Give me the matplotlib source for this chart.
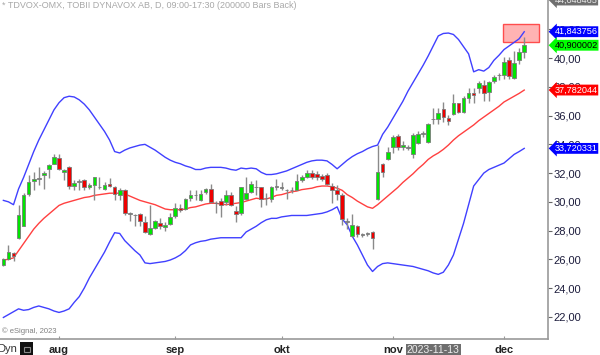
import matplotlib
matplotlib.use('Agg')
import matplotlib.pyplot as plt
import matplotlib.patches as mpatches
import numpy as np
import pandas as pd

plt.rcParams['font.family'] = ['Liberation Sans', 'DejaVu Sans']

# trading days shown (Jul 17 - Dec 7 2023)
dates = pd.bdate_range('2023-07-17', '2023-12-07')
month_labels = ['aug', 'sep', 'okt', 'nov', 'dec']

opens = [25.6, 26.0, 26.45, 27.5, 28.35, 30.55, 31.45, 31.6, 31.85, 32.3,
         32.65, 33.05, 32.07, 32.45, 31.1, 31.4, 31.5, 31.0, 31.2, 31.05,
         30.9, 31.25, 31.05, 30.5, 30.85, 29.2, 29.1, 29.15, 28.6, 27.75,
         28.2, 28.55, 28.25, 28.45, 29.0, 29.6, 29.5, 30.3, 30.45, 30.1,
         30.7, 30.9, 29.95, 30.05, 30.0, 30.5, 29.35, 29.2, 30.2, 30.7,
         31.0, 31.0, 30.25, 30.2, 31.05, 31.0, 30.85, 30.8, 30.85, 31.5,
         31.75, 32.0, 31.95, 31.8, 31.85, 31.1, 30.8, 30.5, 28.6, 27.6,
         28.35, 27.7, 27.75, 27.9, 30.2, 32.65, 32.95, 33.8, 34.6, 33.8,
         33.75, 33.35, 34.1, 34.75, 34.15, 35.75, 35.75, 36.45, 35.85, 36.1,
         36.85, 36.25, 37.25, 37.6, 37.95, 38.15, 37.65, 38.4, 38.8, 38.8,
         39.9, 38.6, 39.9, 40.45]
highs = [26.1, 27.0, 26.5, 29.8, 30.6, 31.9, 32.1, 32.4, 32.15, 32.6,
         33.3, 33.35, 32.3, 32.5, 31.55, 31.6, 31.6, 31.3, 31.75, 31.7,
         31.4, 31.65, 31.1, 30.95, 30.9, 29.3, 29.15, 29.2, 29.0, 29.8,
         28.75, 28.85, 28.6, 29.25, 29.9, 29.85, 30.25, 30.8, 30.8, 30.8,
         30.95, 31.25, 30.05, 30.3, 30.85, 30.7, 29.7, 31.05, 31.7, 31.45,
         31.5, 31.05, 30.6, 31.1, 31.6, 31.35, 30.9, 31.0, 31.95, 31.9,
         32.25, 32.2, 32.15, 31.95, 32.0, 31.3, 31.2, 30.6, 28.85, 29.15,
         28.4, 27.85, 27.9, 27.95, 33.95, 32.7, 33.85, 34.65, 34.75, 34.2,
         33.95, 34.8, 34.95, 34.95, 35.5, 36.5, 36.5, 36.95, 36.05, 37.5,
         36.9, 37.4, 37.9, 37.9, 38.4, 38.45, 38.4, 38.8, 39.0, 40.05,
         40.1, 40.5, 40.7, 41.5]
lows = [25.55, 25.95, 25.85, 27.4, 28.3, 30.4, 30.85, 31.2, 30.9, 31.65,
        32.6, 32.25, 31.55, 30.9, 30.8, 30.85, 30.85, 30.9, 30.15, 30.9,
        30.8, 31.0, 30.15, 30.1, 29.05, 28.65, 28.3, 28.3, 27.85, 27.7,
        28.1, 28.1, 27.95, 28.4, 28.9, 29.3, 29.45, 30.05, 30.15, 30.05,
        30.55, 29.9, 29.2, 28.95, 29.8, 29.7, 28.6, 29.1, 30.1, 30.6,
        30.5, 29.65, 29.8, 30.0, 30.85, 30.85, 30.2, 30.6, 30.8, 31.4,
        31.65, 31.6, 31.5, 31.45, 31.2, 29.95, 30.1, 28.4, 28.1, 27.55,
        27.55, 27.55, 27.65, 26.75, 30.1, 31.7, 32.9, 33.4, 33.6, 33.6,
        33.6, 33.05, 34.0, 34.5, 34.1, 35.45, 35.45, 35.55, 35.35, 36.05,
        36.15, 36.2, 36.85, 36.85, 37.6, 37.0, 37.0, 38.25, 38.5, 38.55,
        38.55, 38.55, 39.6, 40.0]
closes = [26.05, 26.5, 26.2, 29.05, 30.5, 31.4, 31.6, 31.65, 32.0, 32.55,
          33.1, 32.3, 32.23, 31.1, 31.3, 31.45, 31.0, 31.2, 31.7, 31.0,
          31.15, 31.1, 30.55, 30.8, 29.25, 29.15, 29.05, 28.65, 27.9, 28.2,
          28.65, 28.3, 28.4, 28.95, 29.55, 29.4, 30.2, 30.45, 30.5, 30.55,
          30.9, 30.0, 29.9, 29.8, 30.45, 29.75, 29.15, 31.0, 30.6, 31.25,
          31.05, 30.2, 30.3, 31.05, 31.1, 30.95, 30.8, 30.85, 31.45, 31.7,
          32.0, 31.75, 31.7, 31.6, 31.25, 30.85, 30.55, 28.8, 28.65, 28.4,
          27.75, 27.75, 27.8, 27.5, 32.1, 32.1, 33.45, 34.5, 33.85, 33.95,
          33.8, 34.65, 34.7, 34.8, 35.45, 35.8, 36.15, 35.9, 35.65, 36.9,
          36.25, 37.2, 37.6, 37.45, 38.25, 37.6, 38.35, 38.7, 38.85, 39.7,
          38.75, 39.65, 40.45, 40.9]

# bollinger bands
bb_upper = [30.1, 30.0, 29.8, 30.9, 31.7, 32.6, 33.5, 34.3, 35.0, 35.7,
            36.4, 36.9, 37.25, 37.35, 37.3, 37.1, 36.8, 36.4, 35.9, 35.4,
            34.9, 34.3, 33.5, 33.4, 33.6, 33.75, 33.85, 33.95, 34.0, 33.8,
            33.6, 33.35, 33.1, 32.9, 32.75, 32.65, 32.5, 32.4, 32.25, 32.25,
            32.35, 32.4, 32.4, 32.4, 32.35, 32.25, 32.2, 32.35, 32.3, 32.35,
            32.3, 32.05, 31.9, 31.9, 31.95, 32.05, 32.15, 32.3, 32.45, 32.6,
            32.75, 32.85, 32.9, 32.9, 32.85, 32.6, 32.3, 32.6, 32.9, 33.15,
            33.35, 33.5, 33.7, 33.85, 33.95, 34.7, 35.2, 35.8, 36.4, 37.0,
            37.7, 38.3, 38.9, 39.5, 40.15, 40.85, 41.55, 41.72, 41.75, 41.65,
            41.3, 40.8, 40.3, 39.05, 39.2, 39.1, 39.35, 39.85, 40.2, 40.6,
            40.85, 41.1, 41.35, 41.84]
bb_mid = [25.95, 26.0, 26.1, 26.6, 27.1, 27.6, 28.1, 28.5, 28.85, 29.15,
          29.45, 29.75, 29.9, 30.0, 30.1, 30.2, 30.3, 30.35, 30.45, 30.5,
          30.55, 30.6, 30.6, 30.6, 30.55, 30.4, 30.25, 30.1, 30.0, 29.9,
          29.8, 29.65, 29.5, 29.45, 29.45, 29.45, 29.5, 29.6, 29.65, 29.75,
          29.85, 29.9, 29.9, 29.85, 29.8, 29.85, 29.9, 29.95, 30.05, 30.15,
          30.25, 30.2, 30.2, 30.3, 30.45, 30.5, 30.6, 30.7, 30.75, 30.85,
          30.9, 30.95, 31.05, 31.1, 31.1, 31.05, 30.95, 30.8, 30.5, 30.3,
          30.05, 29.85, 29.65, 29.55, 29.8, 30.1, 30.4, 30.7, 31.0, 31.35,
          31.65, 31.95, 32.3, 32.6, 32.95, 33.2, 33.4, 33.65, 33.95, 34.3,
          34.6, 34.85, 35.1, 35.35, 35.65, 35.9, 36.15, 36.4, 36.65, 36.95,
          37.15, 37.35, 37.55, 37.78]
bb_lower = [21.95, 22.15, 22.35, 22.55, 22.45, 22.5, 22.65, 22.75, 22.65, 22.55,
            22.4, 22.3, 22.4, 22.55, 23.0, 23.4, 24.0, 24.7, 25.3, 25.9,
            26.5, 27.2, 27.85, 27.8, 27.3, 26.95, 26.6, 26.3, 25.75, 25.7,
            25.75, 25.8, 25.85, 25.95, 26.1, 26.3, 26.6, 27.0, 27.15, 27.25,
            27.3, 27.4, 27.45, 27.5, 27.5, 27.5, 27.5, 27.5, 27.9, 28.1,
            28.3, 28.55, 28.75, 28.85, 28.85, 28.95, 29.0, 29.05, 29.05, 29.05,
            29.05, 29.1, 29.15, 29.2, 29.3, 29.45, 29.65, 28.8, 28.4, 27.6,
            27.0, 26.3, 25.6, 25.15, 25.5, 25.7, 25.75, 25.7, 25.65, 25.6,
            25.55, 25.5, 25.4, 25.3, 25.2, 25.05, 24.95, 25.1, 25.6, 26.3,
            27.4, 28.5, 29.8, 31.1, 31.55, 32.0, 32.25, 32.4, 32.55, 32.7,
            33.0, 33.3, 33.5, 33.72]

# price flags on the right axis
flag_values = [44.048465, 41.843756, 40.900002, 37.782044, 33.720331]
flag_colors = ['#6f6f6f', '#0000ff', '#00ff00', '#ff0000', '#0000ff']
flag_text_colors = ['#e8e8e8', 'white', 'black', 'white', 'white']

o = np.array(opens)
h = np.array(highs)
l = np.array(lows)
c = np.array(closes)
x = np.arange(len(dates))

fig = plt.figure(figsize=(6, 3.55), dpi=100)
ax = fig.add_axes([0, 15.7/355, 548.3/600, 339.3/355])

# bands
ax.plot(x, bb_upper, color='#4040ff', lw=1.0, zorder=1)
ax.plot(x, bb_lower, color='#4040ff', lw=1.0, zorder=1)
ax.plot(x, bb_mid, color='#ff4040', lw=1.0, zorder=1)

# candles
cols = []
for oo, cc in zip(o, c):
    if abs(cc - oo) < 0.08:
        cols.append('#9a9a9a')
    elif cc > oo:
        cols.append('#00e600')
    else:
        cols.append('#ee0000')
ax.vlines(x, l, h, color='#8a8a8a', lw=1.0, zorder=2)
body_h = np.maximum(np.abs(c - o), 0.05)
ax.bar(x, body_h, bottom=np.minimum(o, c), width=0.72, color=cols,
       edgecolor='#7a7a7a', linewidth=0.6, zorder=3)

# pink box near the last bar
ax.add_patch(mpatches.Rectangle((98.8, 41.1), 7.1, 1.28, facecolor='#ffb3b3',
                                edgecolor='#ff4d4d', lw=1.0, zorder=0))

ax.set_xlim(-0.67, 107.76)
ax.set_ylim(20.43, 44.05)

# month ticks at first trading day of each month
ticks = []
for m in [8, 9, 10, 11, 12]:
    ticks.append(int(np.argmax(dates.month == m)))
ax.set_xticks(ticks)
ax.set_xticklabels(month_labels, fontsize=8, fontweight='bold', color='#222222')
ax.tick_params(axis='x', direction='in', length=2, color='#999999', pad=4)

ax.yaxis.tick_right()
yt = np.arange(22, 44, 2)
ax.set_yticks(yt)
ax.set_yticklabels([f'{v:.2f}'.replace('.', ',') for v in yt], fontsize=8, color='#1c1c3c')
ax.tick_params(axis='y', direction='out', length=3, color='#666666', pad=1)

for s in ['top', 'left']:
    ax.spines[s].set_visible(False)
for s in ['right', 'bottom']:
    ax.spines[s].set_color('#9a9a9a')
    ax.spines[s].set_linewidth(1.2)

# flags
tr = ax.get_yaxis_transform()
for v, fc, tc in zip(flag_values, flag_colors, flag_text_colors):
    ax.text(1.011, v, f'{v:.6f}'.replace('.', ','), transform=tr, ha='left', va='center',
            fontsize=6.6, color=tc, zorder=10, clip_on=False,
            bbox=dict(boxstyle='larrow,pad=0.1', fc=fc, ec='none'))

fig.text(0.003, 1 - 5/355, '* TDVOX-OMX, TOBII DYNAVOX AB, D, 09:00-17:30 (200000 Bars Back)',
         fontsize=6.5, color='#a8a8a8', va='center', ha='left')
fig.text(0.004, 1 - 331/355, '\u00a9 eSignal, 2023', fontsize=5.5, color='#808080', va='center')
fig.text(-0.004, 1 - 349/355, 'Dyn', fontsize=8, color='#333333', va='center')
fig.patches.append(mpatches.Rectangle((20/600, 1 - 355/355), 13/600, 13/355,
                                      transform=fig.transFigure, facecolor='#111111'))
fig.patches.append(mpatches.Rectangle((23.5/600, 1 - 352/355), 6/600, 5/355,
                                      transform=fig.transFigure, facecolor='none',
                                      edgecolor='#888888', lw=0.8))
ax.text(dates.get_loc(pd.Timestamp('2023-11-13')), -0.031, '2023-11-13',
        transform=ax.get_xaxis_transform(), ha='center', va='center', fontsize=7.5,
        color='#eeeeee', clip_on=False,
        bbox=dict(boxstyle='square,pad=0.1', fc='#6e6e6e', ec='none'))

fig.savefig('out.png', dpi=100)
